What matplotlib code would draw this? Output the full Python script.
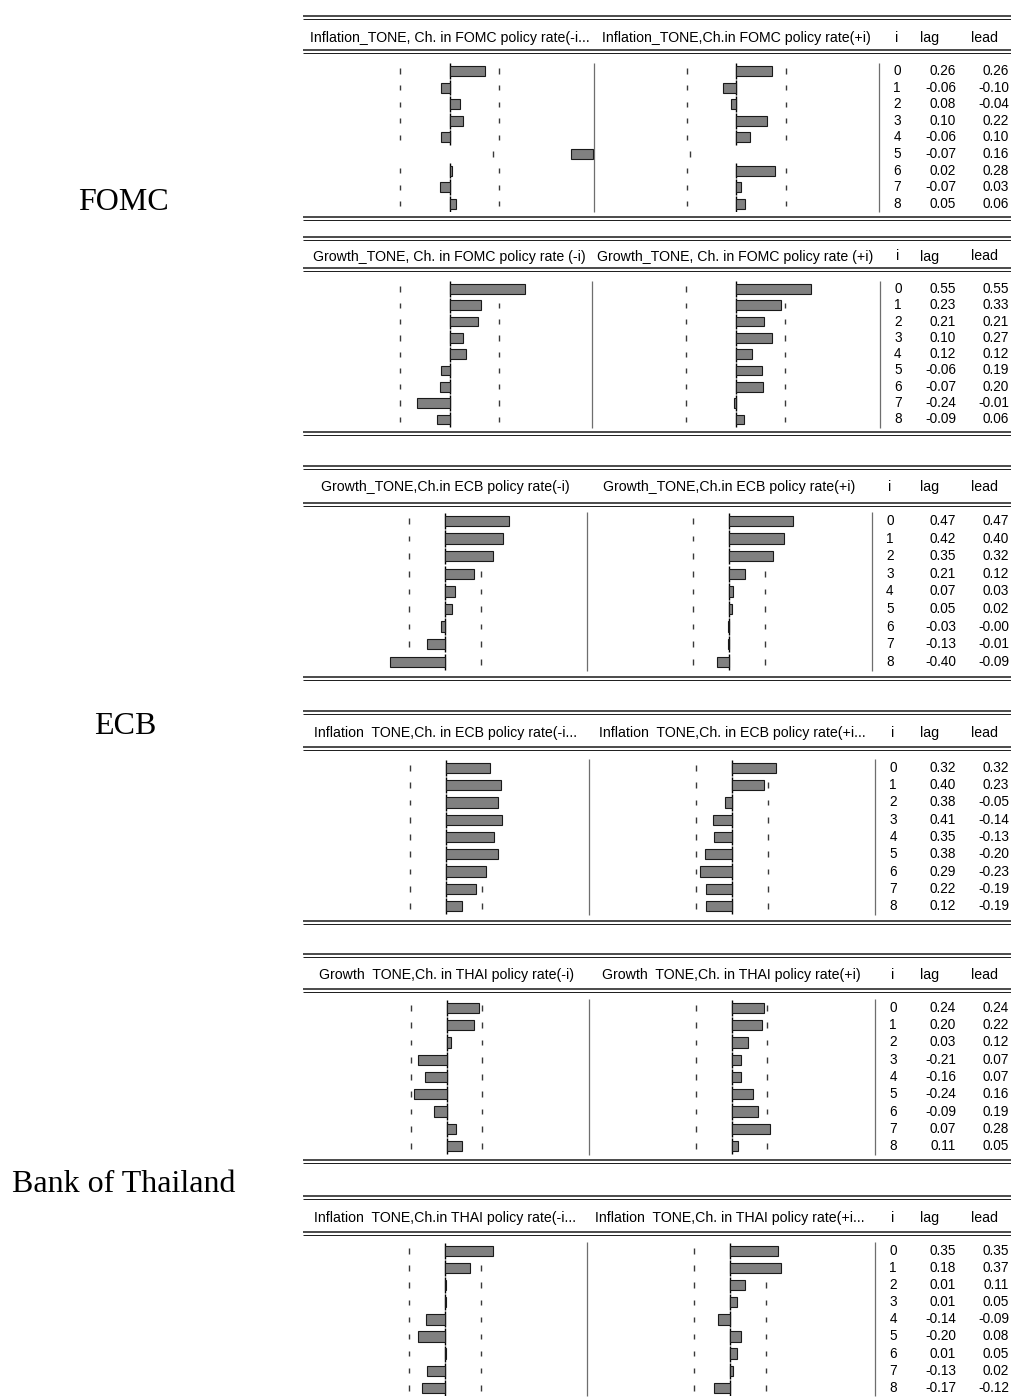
import matplotlib
matplotlib.use("Agg")
import matplotlib.pyplot as plt
import numpy as np

lags = np.arange(9)

fomc_infl_lag = [0.26, -0.06, 0.08, 0.10, -0.06, -0.07, 0.02, -0.07, 0.05]
fomc_infl_lead = [0.26, -0.10, -0.04, 0.22, 0.10, 0.16, 0.28, 0.03, 0.06]
fomc_grow_lag = [0.55, 0.23, 0.21, 0.10, 0.12, -0.06, -0.07, -0.24, -0.09]
fomc_grow_lead = [0.55, 0.33, 0.21, 0.27, 0.12, 0.19, 0.20, -0.01, 0.06]
ecb_grow_lag = [0.47, 0.42, 0.35, 0.21, 0.07, 0.05, -0.03, -0.13, -0.40]
ecb_grow_lead = [0.47, 0.40, 0.32, 0.12, 0.03, 0.02, -0.004, -0.01, -0.09]
ecb_infl_lag = [0.32, 0.40, 0.38, 0.41, 0.35, 0.38, 0.29, 0.22, 0.12]
ecb_infl_lead = [0.32, 0.23, -0.05, -0.14, -0.13, -0.20, -0.23, -0.19, -0.19]
thai_grow_lag = [0.24, 0.20, 0.03, -0.21, -0.16, -0.24, -0.09, 0.07, 0.11]
thai_grow_lead = [0.24, 0.22, 0.12, 0.07, 0.07, 0.16, 0.19, 0.28, 0.05]
thai_infl_lag = [0.35, 0.18, 0.01, 0.01, -0.14, -0.20, 0.01, -0.13, -0.17]
thai_infl_lead = [0.35, 0.37, 0.11, 0.05, -0.09, 0.08, 0.05, 0.02, -0.12]

# +/- 2 s.e. bands drawn by EViews
fomc_band = 0.36
other_band = 0.26

headers_lag = [
    "Inflation_TONE, Ch. in FOMC policy rate(-i...",
    "Growth_TONE, Ch. in FOMC policy rate (-i)",
    "Growth_TONE,Ch.in ECB policy rate(-i)",
    "Inflation  TONE,Ch. in ECB policy rate(-i...",
    "Growth  TONE,Ch. in THAI policy rate(-i)",
    "Inflation  TONE,Ch.in THAI policy rate(-i...",
]
headers_lead = [
    "Inflation_TONE,Ch.in FOMC policy rate(+i)",
    "Growth_TONE, Ch. in FOMC policy rate (+i)",
    "Growth_TONE,Ch.in ECB policy rate(+i)",
    "Inflation  TONE,Ch. in ECB policy rate(+i...",
    "Growth  TONE,Ch. in THAI policy rate(+i)",
    "Inflation  TONE,Ch. in THAI policy rate(+i...",
]
bank_labels = ["FOMC", "ECB", "Bank of Thailand"]

# the FOMC inflation table has a mis-drawn row 5 in the original
fomc_glitch = dict(row=5, shift=1.05, width=-0.16, lag_dash=0.32, lead_dash=-0.34)

lag_series = [fomc_infl_lag, fomc_grow_lag, ecb_grow_lag, ecb_infl_lag, thai_grow_lag, thai_infl_lag]
lead_series = [fomc_infl_lead, fomc_grow_lead, ecb_grow_lead, ecb_infl_lead, thai_grow_lead, thai_infl_lead]
bands = [fomc_band, fomc_band, other_band, other_band, other_band, other_band]

# ---- layout (pixels of the 1011x1398 page) ----
W, H = 1011, 1398
SCALE = 137.0  # px per unit of correlation
X0 = 303
panels = [
    dict(top=16, hdr=38, hrule=50, row0=71, dy=16.6, bottom=217, lz=449.5, sep=593.5, rz=736.5, tab=879),
    dict(top=237, hdr=256.5, hrule=268, row0=289, dy=16.3, bottom=432, lz=449.5, sep=592, rz=735.5, tab=880),
    dict(top=466, hdr=487, hrule=503, row0=521, dy=17.6, bottom=677, lz=445, sep=587, rz=729, tab=872),
    dict(top=711, hdr=733, hrule=747, row0=768, dy=17.25, bottom=921, lz=446, sep=588.5, rz=732, tab=875),
    dict(top=954, hdr=975, hrule=989, row0=1008, dy=17.25, bottom=1160, lz=446.5, sep=588.5, rz=731.5, tab=875),
    dict(top=1196, hdr=1218, hrule=1232, row0=1251, dy=17.1, bottom=None, lz=445, sep=587, rz=730, tab=875),
]
label_pos = [(123, 203), (125, 726), (124, 1185)]

BAR_FILL = "#808080"
BAR_EDGE = "#1a1a1a"
RULE = "#1a1a1a"
SEP = "#6e6e6e"
FONT = ["Liberation Sans", "DejaVu Sans"]
HDR_SIZE = 10.2
NUM_SIZE = 9.8

fig = plt.figure(figsize=(W / 100, H / 100), dpi=100)
page = fig.add_axes([0, 0, 1, 1])
page.set_xlim(0, W)
page.set_ylim(H, 0)
page.axis("off")


def double_rule(y):
    page.hlines(y, X0, W, color=RULE, lw=1.1)
    page.hlines(y + 2.8, X0, W, color=RULE, lw=0.7)


def bar_axes(left_px, right_px, zero_px, p):
    ytop = p["row0"] - p["dy"] / 2
    ybot = p["row0"] + 8 * p["dy"] + p["dy"] / 2
    ax = fig.add_axes([left_px / W, 1 - ybot / H, (right_px - left_px) / W, (ybot - ytop) / H])
    ax.set_xlim(-(zero_px - left_px) / SCALE, (right_px - zero_px) / SCALE)
    ax.set_ylim(8.5, -0.5)
    ax.axis("off")
    ax.patch.set_alpha(0)
    return ax


def draw_bars(ax, vals, band, skip=()):
    rows = np.array([i for i in lags if i not in skip])
    v = np.array(vals)[rows]
    ax.vlines(np.zeros(len(rows)), rows - 0.47, rows + 0.47, color="black", lw=1.0, zorder=2)
    for b in (-band, band):
        ax.vlines(np.full(len(rows), b), rows - 0.16, rows + 0.16, color="#3a3a3a", lw=1.0, zorder=1)
    ax.barh(rows, v, height=0.6, left=0, color=BAR_FILL, edgecolor=BAR_EDGE, lw=0.8, zorder=3)


for k, p in enumerate(panels):
    band = bands[k]
    double_rule(p["top"])
    double_rule(p["hrule"])
    if p["bottom"] is not None:
        double_rule(p["bottom"])

    page.text(p["lz"], p["hdr"], headers_lag[k], ha="center", va="center", fontsize=HDR_SIZE, family=FONT)
    page.text(p["rz"], p["hdr"], headers_lead[k], ha="center", va="center", fontsize=HDR_SIZE, family=FONT)
    page.text(p["tab"] + 18, p["hdr"], "i", ha="center", va="center", fontsize=HDR_SIZE, family=FONT)
    page.text(930, p["hdr"], "lag", ha="center", va="center", fontsize=HDR_SIZE, family=FONT)
    page.text(985, p["hdr"], "lead", ha="center", va="center", fontsize=HDR_SIZE, family=FONT)

    ax_lag = bar_axes(X0, p["sep"], p["lz"], p)
    ax_lead = bar_axes(p["sep"], p["tab"], p["rz"], p)

    skip = (fomc_glitch["row"],) if k == 0 else ()
    draw_bars(ax_lag, lag_series[k], band, skip)
    draw_bars(ax_lead, lead_series[k], band, skip)
    if k == 0:
        r = fomc_glitch["row"]
        ax_lag.vlines(fomc_glitch["lag_dash"], r - 0.16, r + 0.16, color="#3a3a3a", lw=1.0)
        ax_lag.barh([r], [fomc_glitch["width"]], height=0.6, left=fomc_glitch["shift"],
                    color=BAR_FILL, edgecolor=BAR_EDGE, lw=0.8, zorder=3)
        ax_lead.vlines(fomc_glitch["lead_dash"], r - 0.16, r + 0.16, color="#3a3a3a", lw=1.0)

    # column separators
    yt = p["row0"] - p["dy"] / 2
    yb = p["row0"] + 8.5 * p["dy"]
    page.vlines(p["sep"], yt, yb, color=SEP, lw=0.9)
    page.vlines(p["tab"], yt, yb, color=SEP, lw=0.9)

    for i in lags:
        y = p["row0"] + i * p["dy"]
        page.text(p["tab"] + 18, y, str(i), ha="center", va="center", fontsize=NUM_SIZE, family=FONT)
        page.text(956, y, f"{lag_series[k][i]:.2f}", ha="right", va="center", fontsize=NUM_SIZE, family=FONT)
        page.text(1009, y, f"{lead_series[k][i]:.2f}", ha="right", va="center", fontsize=NUM_SIZE, family=FONT)

for name, (x, y) in zip(bank_labels, label_pos):
    page.text(x, y, name, ha="center", va="center", fontsize=23, family=["Liberation Serif", "DejaVu Serif"])

fig.savefig("out.png", dpi=100, facecolor="white")
